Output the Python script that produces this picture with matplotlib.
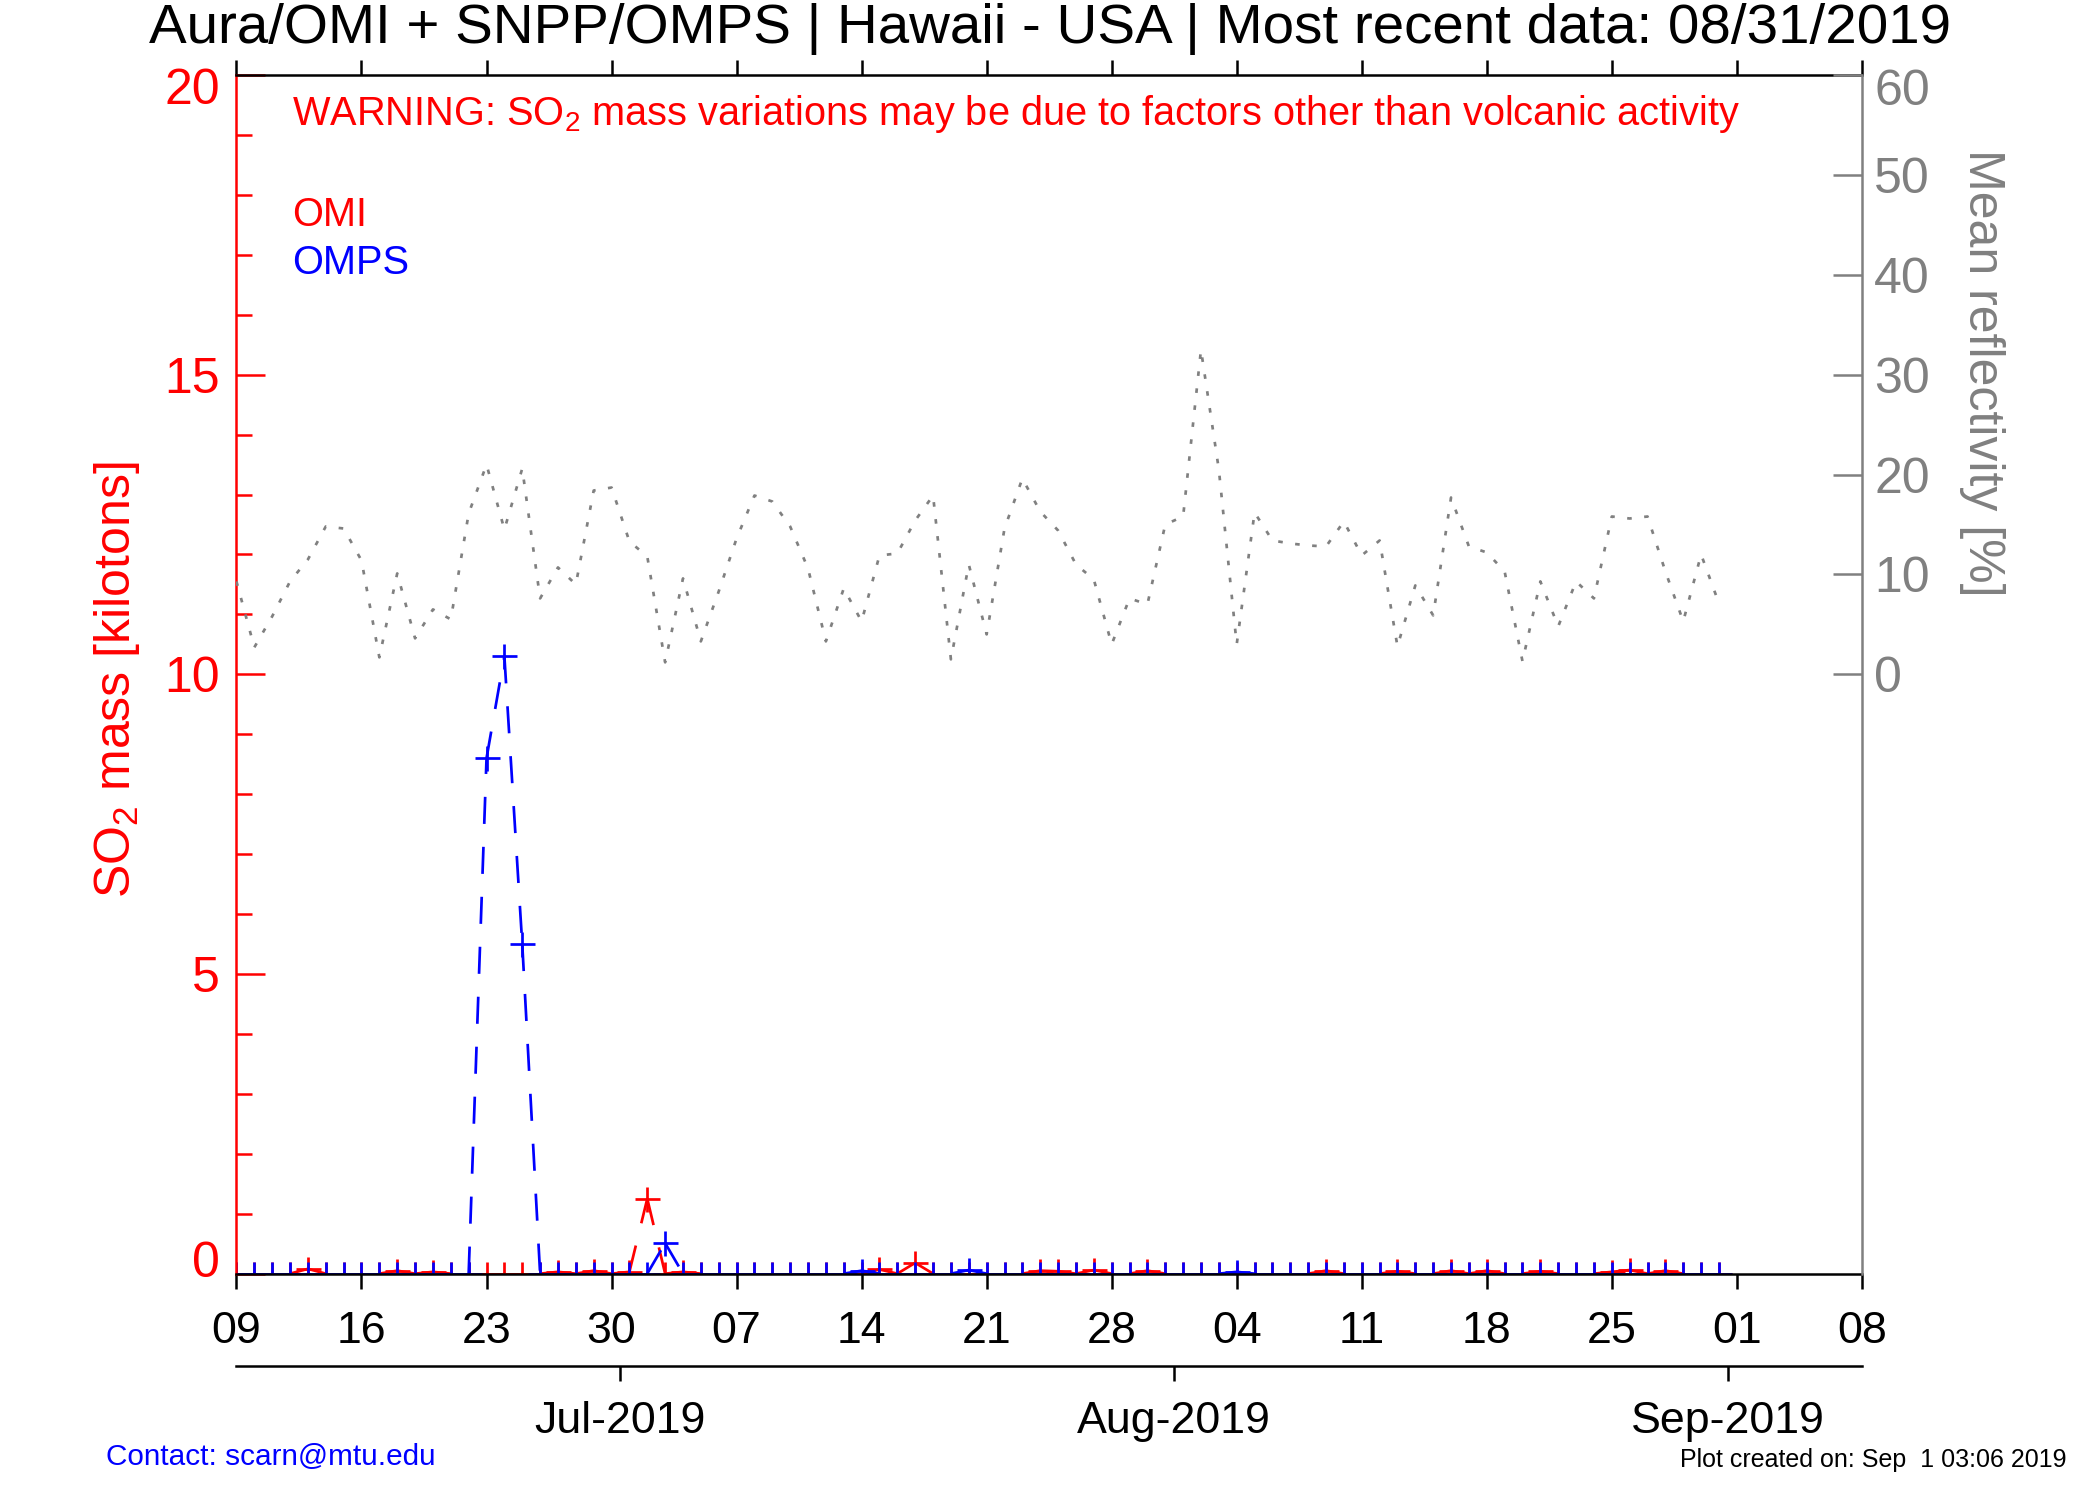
import matplotlib
matplotlib.use('Agg')
import matplotlib.pyplot as plt
import matplotlib.dates as mdates
import matplotlib.transforms as mtransforms
from matplotlib.ticker import MultipleLocator, FixedLocator, FixedFormatter
import pandas as pd

plt.rcParams['font.family'] = ['Liberation Sans', 'DejaVu Sans']
plt.rcParams['mathtext.fontset'] = 'custom'
plt.rcParams['mathtext.rm'] = 'Liberation Sans'
plt.rcParams['mathtext.it'] = 'Liberation Sans:italic'
plt.rcParams['mathtext.default'] = 'regular'
plt.rcParams['lines.scale_dashes'] = False

# ---------------- data ----------------
dates = pd.date_range('2019-06-09', '2019-08-31', freq='D')

reflectivity = [9.3, 2.7, 5.8, 9.3, 11.5, 14.8, 14.6, 11.4, 1.7, 10.1,
                3.6, 6.5, 5.5, 16.1, 21.0, 14.5, 20.6, 7.6, 10.7, 9.0,
                18.4, 18.7, 13.3, 11.8, 1.2, 9.6, 3.3, 8.3, 13.6, 17.9,
                17.3, 14.8, 10.6, 3.3, 8.6, 5.3, 11.9, 12.1, 15.4, 17.9,
                1.5, 11.0, 4.0, 14.6, 19.6, 16.3, 14.4, 11.0, 9.5, 3.0,
                7.6, 7.0, 15.0, 15.8, 32.5, 20.5, 3.0, 16.2, 13.4, 13.1,
                12.9, 12.8, 15.3, 11.9, 13.4, 2.8, 8.9, 5.9, 17.7, 12.8,
                12.2, 10.3, 1.3, 9.3, 4.8, 9.3, 7.6, 15.8, 15.6, 15.8,
                10.3, 5.3, 12.0, 7.1]

omi_so2 = [0.0, 0.0, 0.0, 0.0, 0.08, 0.0, 0.0, 0.0, 0.0, 0.05,
           0.0, 0.03, 0.0, 0.0, 0.0, 0.0, 0.0, 0.0, 0.03, 0.0,
           0.05, 0.0, 0.03, 1.25, 0.0, 0.03, 0.0, 0.0, 0.0, 0.0,
           0.0, 0.0, 0.0, 0.0, 0.0, 0.0, 0.07, 0.0, 0.18, 0.0,
           0.0, 0.0, 0.0, 0.0, 0.0, 0.05, 0.04, 0.0, 0.06, 0.0,
           0.0, 0.05, 0.0, 0.0, 0.0, 0.0, 0.0, 0.0, 0.0, 0.0,
           0.0, 0.05, 0.0, 0.0, 0.0, 0.04, 0.0, 0.0, 0.05, 0.0,
           0.05, 0.0, 0.0, 0.04, 0.0, 0.0, 0.0, 0.03, 0.06, 0.0,
           0.05, 0.0, 0.0, 0.0]

omps_so2 = [0.0, 0.0, 0.0, 0.0, 0.0, 0.0, 0.0, 0.0, 0.0, 0.0,
            0.0, 0.0, 0.0, 0.0, 8.6, 10.3, 5.5, 0.0, 0.0, 0.0,
            0.0, 0.0, 0.0, 0.0, 0.51, 0.0, 0.0, 0.0, 0.0, 0.0,
            0.0, 0.0, 0.0, 0.0, 0.0, 0.05, 0.0, 0.0, 0.0, 0.0,
            0.0, 0.06, 0.0, 0.0, 0.0, 0.0, 0.0, 0.0, 0.0, 0.0,
            0.0, 0.0, 0.0, 0.0, 0.0, 0.0, 0.03, 0.0, 0.0, 0.0,
            0.0, 0.0, 0.0, 0.0, 0.0, 0.0, 0.0, 0.0, 0.0, 0.0,
            0.0, 0.0, 0.0, 0.0, 0.0, 0.0, 0.0, 0.0, 0.0, 0.0,
            0.0, 0.0, 0.0, 0.0]

left_ticks = [0, 5, 10, 15, 20]
right_ticks = [0, 10, 20, 30, 40, 50, 60]
month_starts = ['2019-07-01', '2019-08-01', '2019-09-01']
month_labels = ['Jul-2019', 'Aug-2019', 'Sep-2019']

title = 'Aura/OMI + SNPP/OMPS | Hawaii - USA | Most recent data: 08/31/2019'
warning = 'WARNING: SO$_2$ mass variations may be due to factors other than volcanic activity'

GRAY = '#808080'

# ---------------- figure ----------------
fig = plt.figure(figsize=(14, 10), dpi=150)
ax = fig.add_axes([0.1126, 0.1509, 0.7740, 0.7991])
ax2 = ax.twinx()

# reflectivity (right axis)
ax2.plot(dates, reflectivity, color=GRAY, lw=1.3, linestyle=(0, (2.2, 6.0)))
ax2.set_ylim(-60, 60)
ax2.yaxis.set_major_locator(FixedLocator(right_ticks))
ax2.tick_params(axis='y', direction='in', length=14, width=1.2, colors=GRAY,
                labelsize=24, pad=6)
for s in ['left', 'top', 'bottom']:
    ax2.spines[s].set_visible(False)
ax2.spines['right'].set_color(GRAY)
ax2.spines['right'].set_linewidth(1.2)


def dashed(axis, x, y, color):
    for i in range(len(x) - 1):
        axis.plot(x[i:i + 2], y[i:i + 2], color=color, lw=1.3,
                  linestyle=(0, (13, 11)), dash_capstyle='butt')


dashed(ax, dates, omi_so2, 'red')
ax.plot(dates, omi_so2, linestyle='none', marker='+', ms=12, mew=1.3, color='red')
dashed(ax, dates, omps_so2, 'blue')
ax.plot(dates, omps_so2, linestyle='none', marker='+', ms=12, mew=1.3, color='blue')

ax.set_ylim(0, 20)
ax.set_xlim(pd.Timestamp('2019-06-09'), pd.Timestamp('2019-09-08'))
ax.yaxis.set_major_locator(FixedLocator(left_ticks))
ax.yaxis.set_minor_locator(MultipleLocator(1))
ax.tick_params(axis='y', which='both', direction='in', colors='red', width=1.2,
               left=True, right=False, labelsize=24, pad=8)
ax.tick_params(axis='y', which='major', length=14)
ax.tick_params(axis='y', which='minor', length=7.5)
ax.spines['left'].set_color('red')
ax.spines['right'].set_visible(False)
for s in ['left', 'top', 'bottom']:
    ax.spines[s].set_linewidth(1.2)

ax.xaxis.set_major_locator(mdates.WeekdayLocator(byweekday=mdates.SU))
ax.xaxis.set_major_formatter(mdates.DateFormatter('%d'))
ax.tick_params(axis='x', which='major', direction='out', length=7, width=1.2,
               top=True, bottom=True, labelsize=21.5, pad=11)

# month axis below (ticks sit half a day before the 1st, as in the original)
month_pos = [mdates.date2num(pd.Timestamp(m)) - 0.5 for m in month_starts]
sec = ax.secondary_xaxis(-0.0771)
sec.xaxis.set_major_locator(FixedLocator(month_pos))
sec.xaxis.set_major_formatter(FixedFormatter(month_labels))
sec.tick_params(axis='x', direction='out', length=7, width=1.2, labelsize=21.5, pad=10)
sec.spines['bottom'].set_linewidth(1.2)

# texts
fig.text(0.500, 0.9804, title, ha='center', va='center', fontsize=27.1)
fig.text(0.139, 0.924, warning, color='red', fontsize=19.1, va='center')
fig.text(0.139, 0.857, 'OMI', color='red', fontsize=19.1, va='center')
fig.text(0.139, 0.8245, 'OMPS', color='blue', fontsize=19.1, va='center')
fig.text(0.0558, 0.5467, 'SO$_2$ mass [kilotons]', rotation=90, color='red',
         fontsize=24, ha='center', va='center')
fig.text(0.9436, 0.7513, 'Mean reflectivity [%]', rotation=270, color=GRAY,
         fontsize=24, ha='center', va='center')
fig.text(0.0504, 0.0286, 'Contact: scarn@mtu.edu', color='blue', fontsize=14.3, va='center')
fig.text(0.984, 0.0268, 'Plot created on: Sep  1 03:06 2019', ha='right',
         fontsize=12, va='center')

# end labels kept inside the axis range, as in the original
fig.canvas.draw()


def shift(lbl, dy_pt):
    lbl.set_transform(lbl.get_transform() +
                      mtransforms.ScaledTranslation(0, dy_pt / 72.0, fig.dpi_scale_trans))


for lbl in ax.get_yticklabels():
    if lbl.get_text() == '0':
        shift(lbl, 7.1)
    elif lbl.get_text() == '20':
        shift(lbl, -5.2)
for lbl in ax2.get_yticklabels():
    if lbl.get_text() == '60':
        shift(lbl, -5.8)

fig.savefig('out.png', dpi=150)
